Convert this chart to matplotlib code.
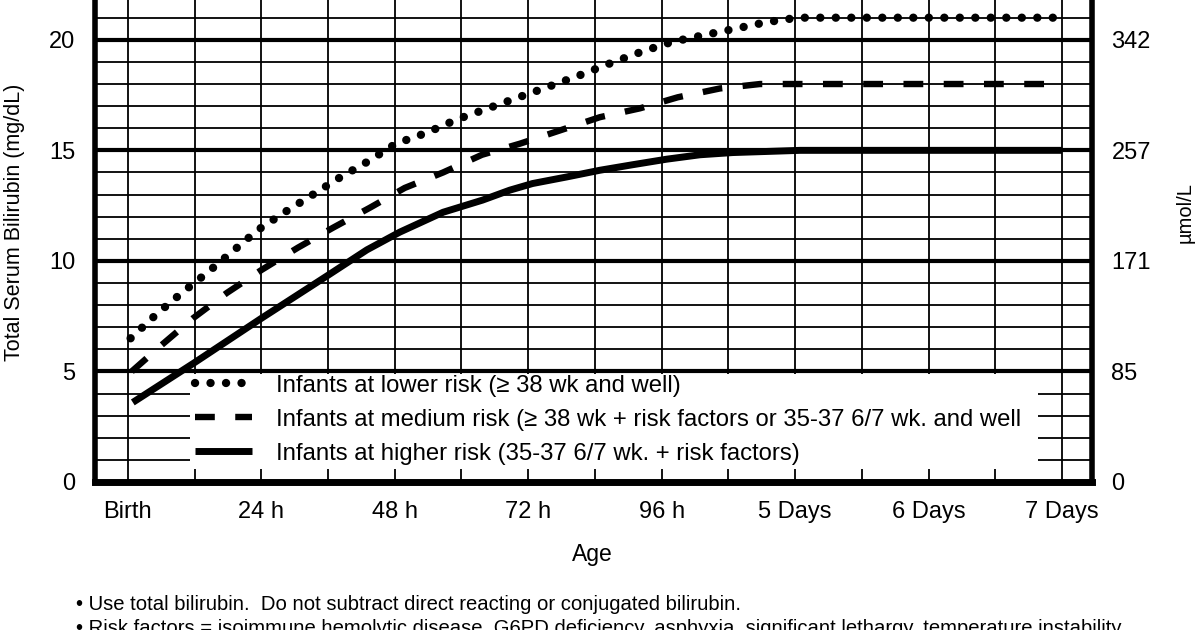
import matplotlib
matplotlib.use('Agg')
import matplotlib.pyplot as plt
from matplotlib.patches import Rectangle
from matplotlib.ticker import MultipleLocator

plt.rcParams['font.family'] = ['Liberation Sans', 'DejaVu Sans']

# age in hours, bilirubin in mg/dL
lower_h = [0.5, 5.2, 9.7, 14.2, 18.7, 23.4, 28.2, 33.3, 38, 43.2, 48.2, 53.8, 59.2,
           64.8, 70.3, 75.9, 81.3, 86.9, 92.3, 97.8, 103.4, 109.2, 114.9, 120.5, 168]
lower_y = [6.5, 7.6, 8.55, 9.45, 10.4, 11.4, 12.2, 13.0, 13.75, 14.5, 15.3, 15.8, 16.4,
           16.9, 17.4, 17.9, 18.4, 18.95, 19.45, 19.9, 20.2, 20.5, 20.8, 21.0, 21.0]

medium_h = [0.7, 6.1, 11.7, 17.8, 24.1, 30.6, 36.9, 43.5, 49.8, 56.7, 63.7, 70.5,
            77.7, 84.9, 92.1, 98.9, 106.5, 113.7, 168]
medium_y = [5.0, 6.2, 7.4, 8.55, 9.6, 10.6, 11.5, 12.4, 13.3, 14.0, 14.8, 15.3,
            15.9, 16.5, 16.9, 17.4, 17.8, 18.0, 18.0]

higher_h = [0.9, 12, 24, 36, 43, 48.9, 56.7, 63.8, 68.7, 72.8, 79, 84.9, 90.8,
            96.9, 102.9, 108.8, 114.9, 120.9, 168]
higher_y = [3.6, 5.4, 7.4, 9.35, 10.5, 11.3, 12.2, 12.75, 13.2, 13.5, 13.8, 14.1, 14.35,
            14.6, 14.8, 14.9, 14.95, 15.0, 15.0]

labels = ['Infants at lower risk (\u2265 38 wk and well)',
          'Infants at medium risk (\u2265 38 wk + risk factors or 35-37 6/7 wk. and well',
          'Infants at higher risk (35-37 6/7 wk. + risk factors)']

x_ticks = [0, 24, 48, 72, 96, 120, 144, 168]
x_labels = ['Birth', '24 h', '48 h', '72 h', '96 h', '5 Days', '6 Days', '7 Days']
y_ticks = [0, 5, 10, 15, 20]
umol_labels = ['0', '85', '171', '257', '342']

fig = plt.figure(figsize=(12, 6.3), dpi=100)
ax = fig.add_axes([95 / 1200, 148 / 630, 997 / 1200, 482 / 630])
ax.set_xlim(-5.9, 173.4)
ax.set_ylim(0, 21.8)

ax.xaxis.set_major_locator(MultipleLocator(24))
ax.xaxis.set_minor_locator(MultipleLocator(12))
ax.yaxis.set_major_locator(MultipleLocator(5))
ax.yaxis.set_minor_locator(MultipleLocator(1))
ax.set_axisbelow(True)
ax.grid(which='major', axis='y', color='black', lw=3.0)
ax.grid(which='minor', axis='y', color='black', lw=1.3)
ax.grid(which='both', axis='x', color='black', lw=1.3)

ax.set_xticks(x_ticks)
ax.set_xticklabels(x_labels, fontsize=17)
ax.set_yticks(y_ticks)
ax.set_yticklabels([str(v) for v in y_ticks], fontsize=17)
ax.tick_params(which='both', length=0)
ax.tick_params(axis='x', pad=14)
ax.tick_params(axis='y', pad=14)

for side in ['left', 'right']:
    ax.spines[side].set_linewidth(4)
ax.spines['bottom'].set_linewidth(5)
ax.spines['top'].set_visible(False)

# white panel behind the key, leaves short grid stubs at the bottom
ax.add_patch(Rectangle((11.2, 0.6), 152.5, 4.28, facecolor='white',
                       edgecolor='none', zorder=1))

ax.plot(lower_h, lower_y, color='black', lw=6, linestyle=(0, (0.01, 1.85)),
        dash_capstyle='round', label=labels[0], zorder=3)
ax.plot(medium_h, medium_y, color='black', lw=4.6, linestyle=(0, (3.1, 3.2)),
        dash_capstyle='butt', label=labels[1], zorder=3)
ax.plot(higher_h, higher_y, color='black', lw=5, solid_capstyle='butt',
        label=labels[2], zorder=3)

ax.legend(loc='upper left', bbox_to_anchor=(12.0, 4.85), bbox_transform=ax.transData,
          frameon=False, fontsize=17.2, handlelength=2.4, handletextpad=1.0,
          labelspacing=0.5, borderpad=0, borderaxespad=0)

ax2 = ax.twinx()
ax2.set_ylim(ax.get_ylim())
ax2.set_yticks(y_ticks)
ax2.set_yticklabels(umol_labels, fontsize=17)
ax2.tick_params(length=0, pad=14)
for s in ax2.spines.values():
    s.set_visible(False)

fig.text(15 / 1200, 1 - 222 / 630, 'Total Serum Bilirubin (mg/dL)', rotation=90,
         ha='center', va='center', fontsize=15.5)
fig.text(1185 / 1200, 1 - 213 / 630, '\u00b5mol/L', rotation=90,
         ha='center', va='center', fontsize=14.5)
fig.text(592 / 1200, 1 - 555 / 630, 'Age', ha='center', va='center', fontsize=16.5)

fig.text(76 / 1200, 1 - 605 / 630,
         '\u2022 Use total bilirubin.  Do not subtract direct reacting or conjugated bilirubin.',
         ha='left', va='center', fontsize=14.6)
fig.text(76 / 1200, 1 - 629 / 630,
         '\u2022 Risk factors = isoimmune hemolytic disease, G6PD deficiency, asphyxia, '
         'significant lethargy, temperature instability,',
         ha='left', va='center', fontsize=14.6)

fig.savefig('out.png', dpi=100)
